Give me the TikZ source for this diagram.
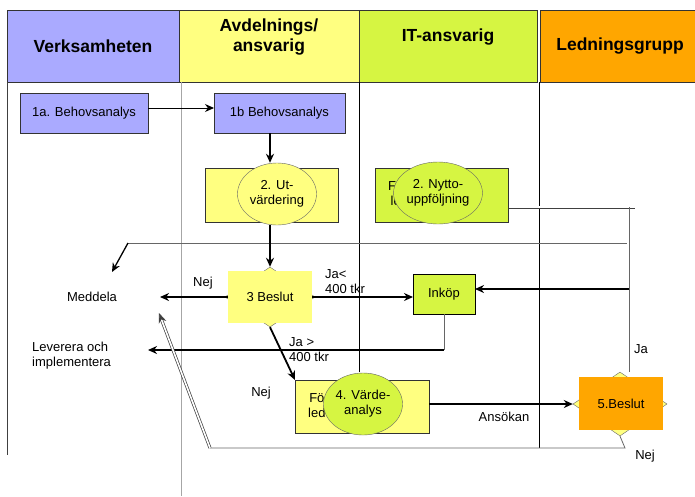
\documentclass[tikz,border=0pt]{standalone}
\usepackage{fontspec}
\setmainfont{Liberation Sans}
\usetikzlibrary{arrows.meta,positioning,shapes.geometric}
\definecolor{lavendel}{RGB}{170,170,255}
\definecolor{gul}{RGB}{255,255,128}
\definecolor{gron}{RGB}{214,245,66}
\definecolor{orang}{RGB}{255,166,0}
\tikzset{
  head/.style={draw=black!80,minimum height=72pt,inner sep=0pt,outer sep=0pt,anchor=north west},
  rubrik/.style={font=\bfseries\fontsize{17.5}{20}\selectfont,align=center},
  ruta/.style={draw=black!80,inner sep=0pt,outer sep=0pt,anchor=north west},
  bubbla/.style={ellipse,draw=black!60,fill=gron,minimum width=79pt,minimum height=62pt,inner sep=0pt,align=center},
  romb/.style={diamond,draw=black!60,fill=gul,inner sep=0pt},
  pil/.style={line width=1.8pt,-{Stealth[length=9pt,width=8pt]}},
  tunn/.style={draw=black!60,line width=0.8pt},
  dubbel/.style={draw=black!75,line width=0.7pt,double=white,double distance=1.6pt},
}
\begin{document}
\begin{tikzpicture}[x=1pt,y=-1pt,font=\fontsize{13}{15}\selectfont]
\useasboundingbox (0,0) rectangle (695,496);
% rubriker
\node[head,fill=lavendel,minimum width=172pt] (verk) at (7,10) {};
\node[head,fill=gul,minimum width=180pt] (avd) at (179,10) {};
\node[head,fill=gron,minimum width=178pt] (it) at (359,10) {};
\node[head,fill=orang,minimum width=160pt] (led) at (540,10) {};
\node[rubrik] (verktxt) at (verk.center) {Verksamheten};
\node[rubrik] (avdtxt) at ([yshift=9pt]avd.center) {Avdelnings/\\ansvarig};
\node[rubrik] (ittxt) at ([yshift=9pt]it.center) {IT-ansvarig};
\node[rubrik] (ledtxt) at (led.center) {Ledningsgrupp};
% banor
\draw[black!75] (7,82) -- (7,455);
\draw[black!35] (181,82) -- (181,496);
\draw[black] (359,82) -- (359,372);
\draw[black] (539,82) -- (539,448);
\coordinate (radL) at (128,243);
\draw[tunn] (radL) -- (627,243);
% steg
\node[ruta,fill=lavendel,minimum width=128pt,minimum height=40pt] (b1a) at (20,93) {1a. Behovsanalys};
\node[ruta,fill=lavendel,minimum width=131pt,minimum height=40pt] (b1b) at (214,93) {1b Behovsanalys};
\node[ruta,fill=gul,minimum width=133pt,minimum height=54pt] (b2) at (205,168) {};
\node[bubbla,fill=gul] (b2e) at (277,194) {2. Ut-\\värdering};
\node[ruta,fill=gron,minimum width=133pt,minimum height=54pt] (nytta) at (375,168) {};
\node[anchor=west,align=center,inner sep=0pt] (nyttatxt) at ([xshift=13pt,yshift=1pt]nytta.west) {Fö\\le};
\node[bubbla] (nyttae) at (438,193) {2. Nytto-\\uppföljning};
\node[romb,minimum width=90pt,minimum height=60pt] (besl3d) at (270,297) {};
\node[ruta,fill=gul,draw=none,minimum width=84pt,minimum height=52pt] (besl3) at (228,271) {3 Beslut};
\node[ruta,fill=gron,draw=black,minimum width=62pt,minimum height=40pt] (inkop) at (413,274) {Inköp};
\node[ruta,fill=gul,minimum width=134pt,minimum height=53pt] (b4) at (295,380) {};
\node[anchor=west,align=center,inner sep=0pt] (b4txt) at ([xshift=13pt,yshift=1pt]b4.west) {Fö\\led};
\node[bubbla] (b4e) at (363,404) {4. Värde-\\analys};
\node[romb,minimum width=94pt,minimum height=64pt] (besl5d) at (620,404) {};
\node[ruta,fill=orang,draw=none,minimum width=84pt,minimum height=53pt] (besl5) at (579,377) {5.Beslut};
% texter
\node (meddela) at (92,297) {Meddela};
\node[anchor=west,align=left,inner sep=0pt] (leverera) at (32,356) {Leverera och\\implementera};
\node[anchor=west,align=left,inner sep=0pt] (jaLiten) at (325,282) {Ja<\\400 tkr};
\node[anchor=west,align=left,inner sep=0pt] (jaStor) at (289,350) {Ja >\\400 tkr};
\node (nejA) at (203,283) {Nej};
\node (nejB) at (261,393) {Nej};
\node (ansokan) at (504,417) {Ansökan};
\node (jaC) at (641,349) {Ja};
\node (nejC) at (645,456) {Nej};
% punkter
\coordinate (medR) at (160,297);
\coordinate (medU) at (112,272);
\coordinate (medD) at (159,313);
\coordinate (levR) at (148,350);
\coordinate (nyttaR) at (629,207);
\coordinate (bottR) at (625,448);
\coordinate (bottL) at (210,448);
% pilar
\draw[pil,line width=1pt] ([yshift=5pt]b1a.east) -- ([yshift=5pt]b1b.west);
\draw[pil] (b1b.south -| besl3d.north) -- (b2e.north -| besl3d.north);
\draw[pil] (b2e.south -| besl3d.north) -- (besl3d.north);
\draw[pil] (besl3.west) -- (medR);
\draw[pil] (besl3.east) -- (besl3.east -| inkop.west);
\draw[pil] (besl3d.south) -- (b4.north west);
\draw[pil] (b4.east |- besl5d.west) -- (besl5d.west);
\draw[tunn] (inkop.south) -- (inkop.south |- levR);
\draw[pil] (inkop.south |- levR) -- (levR);
\draw[dubbel] ([xshift=1pt]nytta.east |- nyttaR) -- ([xshift=6pt]nyttaR);
\draw[tunn] (nyttaR) -- (nyttaR |- besl5d.north);
\draw[pil] ([yshift=5pt]nyttaR |- inkop.east) -- ([yshift=5pt]inkop.east);
\draw[pil,line width=1.3pt] (radL) -- (medU);
\draw[tunn] (besl5d.south) -- (bottR) -- (bottL);
\draw[dubbel,-{Stealth[length=10pt,width=8pt]}] (bottL) -- (medD);
\end{tikzpicture}
\end{document}
